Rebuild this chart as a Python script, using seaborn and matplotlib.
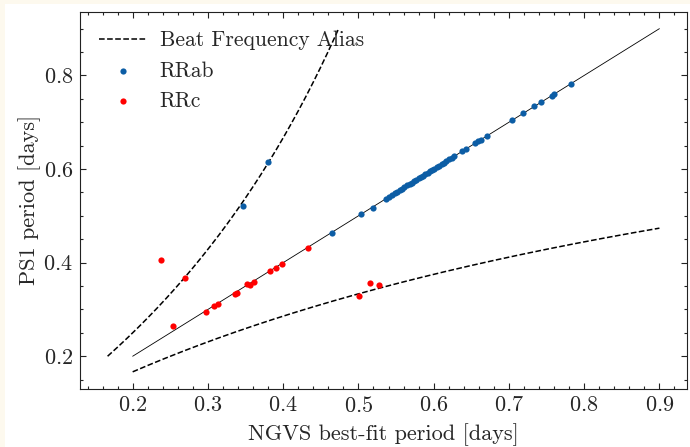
import numpy as np
import pandas as pd
import matplotlib
matplotlib.use("Agg")
import matplotlib.pyplot as plt
from matplotlib.ticker import AutoMinorLocator, MultipleLocator
from matplotlib.patches import Rectangle
import seaborn as sns

# NGVS best-fit periods vs PS1 periods (days)
rrab_ngvs = [0.346, 0.380, 0.465, 0.503, 0.519,
             0.537, 0.541, 0.545, 0.548, 0.551, 0.555, 0.558, 0.561, 0.565,
             0.568, 0.571, 0.574, 0.577, 0.580, 0.583, 0.586, 0.589, 0.592,
             0.595, 0.598, 0.601, 0.604, 0.607, 0.611, 0.614, 0.617, 0.621,
             0.624, 0.627, 0.638, 0.643, 0.655, 0.659, 0.663, 0.671, 0.704,
             0.719, 0.734, 0.743, 0.757, 0.760, 0.782]
rrab_ps1 = [0.522, 0.615, 0.463, 0.503, 0.517,
            0.537, 0.541, 0.545, 0.548, 0.551, 0.555, 0.558, 0.561, 0.565,
            0.568, 0.571, 0.574, 0.577, 0.580, 0.583, 0.586, 0.589, 0.592,
            0.595, 0.598, 0.601, 0.604, 0.607, 0.611, 0.614, 0.617, 0.621,
            0.624, 0.627, 0.638, 0.643, 0.655, 0.659, 0.663, 0.671, 0.704,
            0.719, 0.734, 0.743, 0.757, 0.760, 0.782]
rrc_ngvs = [0.237, 0.254, 0.270, 0.297, 0.3075, 0.313, 0.336, 0.338,
            0.352, 0.356, 0.361, 0.383, 0.390, 0.399, 0.433,
            0.501, 0.515, 0.527]
rrc_ps1 = [0.405, 0.264, 0.367, 0.295, 0.3065, 0.311, 0.334, 0.336,
           0.354, 0.353, 0.359, 0.382, 0.388, 0.398, 0.431,
           0.329, 0.357, 0.352]

period_range = [0.2, 0.9]

# one-day beat-frequency aliases: 1/P_alias = 1/P -/+ 1
grid = np.linspace(period_range[0], period_range[1], 300)
upper = pd.DataFrame({"ngvs": grid / (1 + grid), "ps1": grid})
lower = pd.DataFrame({"ngvs": grid, "ps1": grid / (1 + grid)})
ident = pd.DataFrame({"ngvs": period_range, "ps1": period_range})
rrab = pd.DataFrame({"ngvs": rrab_ngvs, "ps1": rrab_ps1})
rrc = pd.DataFrame({"ngvs": rrc_ngvs, "ps1": rrc_ps1})

sns.set_style("ticks")
plt.rcParams["font.family"] = ["cmr10", "DejaVu Serif"]
plt.rcParams["mathtext.fontset"] = "cm"
plt.rcParams["axes.formatter.use_mathtext"] = True

fig = plt.figure(figsize=(6.9, 4.47), dpi=100, facecolor="white")
fig.patches.append(Rectangle((0, 0), 1, 1, transform=fig.transFigure,
                             facecolor="#fdf9ee", edgecolor="none", zorder=-10))
fig.patches.append(Rectangle((5 / 690, 0), 1, 1 - 4 / 447, transform=fig.transFigure,
                             facecolor="white", edgecolor="none", zorder=-9))
ax = fig.add_axes([80 / 690, 1 - 389 / 447, 607 / 690, (389 - 11.5) / 447])
ax.set_facecolor("white")

sns.lineplot(data=upper, x="ngvs", y="ps1", ax=ax, sort=False, estimator=None,
             color="black", linestyle="--", linewidth=1.1,
             label="Beat Frequency Alias")
sns.lineplot(data=lower, x="ngvs", y="ps1", ax=ax, sort=False, estimator=None,
             color="black", linestyle="--", linewidth=1.1)
sns.lineplot(data=ident, x="ngvs", y="ps1", ax=ax, sort=False, estimator=None,
             color="black", linewidth=0.6)
sns.scatterplot(data=rrab, x="ngvs", y="ps1", ax=ax, color="#0C5DA5", s=20,
                linewidth=0, label="RRab", zorder=3)
sns.scatterplot(data=rrc, x="ngvs", y="ps1", ax=ax, color="red", s=20,
                linewidth=0, label="RRc", zorder=3)

ax.set_xlabel("NGVS best-fit period [days]", fontsize=16, labelpad=5)
ax.set_ylabel("PS1 period [days]", fontsize=16, labelpad=2)
ax.xaxis.set_major_locator(MultipleLocator(0.1))
ax.yaxis.set_major_locator(MultipleLocator(0.2))
ax.xaxis.set_minor_locator(AutoMinorLocator(5))
ax.yaxis.set_minor_locator(AutoMinorLocator(4))
ax.tick_params(which="both", direction="in", top=True, right=True,
               labelsize=16, width=0.8, color="#222222")
ax.tick_params(which="major", length=4.5, pad=5)
ax.tick_params(which="minor", length=2.5)
for sp in ax.spines.values():
    sp.set_linewidth(0.8)
    sp.set_color("#222222")

ax.legend(loc="upper left", frameon=False, fontsize=15.5, handlelength=2.2,
          handletextpad=0.6, borderaxespad=0.5, labelspacing=0.5)

fig.savefig("out.png", dpi=100, facecolor=fig.get_facecolor())
